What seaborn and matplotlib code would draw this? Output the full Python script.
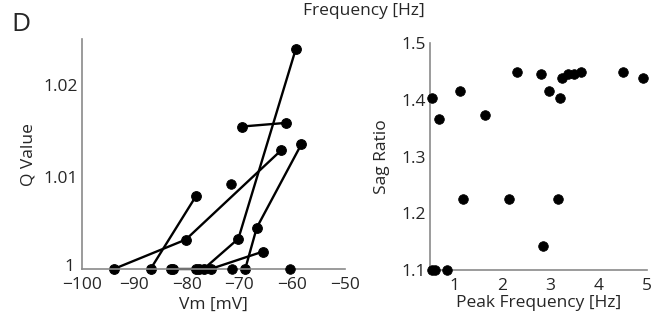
import numpy as np
import pandas as pd
import matplotlib
matplotlib.use("Agg")
import matplotlib.pyplot as plt
import matplotlib.transforms as mtransforms
import seaborn as sns
from matplotlib.ticker import MultipleLocator

sns.set_style("white")
plt.rcParams['font.family'] = ['Open Sans', 'DejaVu Sans']

# ---- Left panel data: Q value vs Vm, connected per cell ----
cell_ids = ["A", "A", "A", "B", "B", "C", "C", "D", "D", "D",
            "E", "E", "E", "F", "F", "G", "G", "G", "G"]
vm_vals = [-93.9, -80.2, -62.1, -86.9, -78.3, -69.6, -61.2, -76.8, -70.2, -59.3,
           -68.9, -66.7, -58.2, -75.5, -65.5, -83.0, -82.6, -78.2, -77.6]
q_vals = [1.0, 1.0032, 1.0129, 1.0, 1.0079, 1.0155, 1.0159, 1.0, 1.0033, 1.0239,
          1.0, 1.0045, 1.0136, 1.0, 1.0019, 1.0, 1.0, 1.0, 1.0]
single_vm = [-71.6, -71.4, -60.3]
single_q = [1.0092, 1.0, 1.0]

# ---- Right panel data: Sag ratio vs peak frequency ----
peak_freq = [0.535, 0.69, 1.12, 1.19, 1.645, 2.14, 2.315, 2.80, 2.845, 2.98,
             3.155, 3.205, 3.24, 3.36, 3.50, 3.63, 4.50, 4.92, 0.535, 0.60, 0.86]
sag_ratio = [1.403, 1.366, 1.416, 1.225, 1.374, 1.225, 1.450, 1.446, 1.143, 1.416,
             1.225, 1.403, 1.439, 1.446, 1.446, 1.450, 1.450, 1.439, 1.10, 1.10, 1.10]

left_xticks = [-100, -90, -80, -70, -60, -50]
left_yticks = [1.0, 1.01, 1.02]
left_yticklabels = ["1", "1.01", "1.02"]
right_xticks = [1, 2, 3, 4, 5]
right_yticks = [1.1, 1.2, 1.3, 1.4, 1.5]

df_lines = pd.DataFrame({"cell": cell_ids, "vm": vm_vals, "q": q_vals})
df_single = pd.DataFrame({"vm": single_vm, "q": single_q})
df_right = pd.DataFrame({"freq": peak_freq, "sag": sag_ratio})

fig = plt.figure(figsize=(6.61, 3.22), dpi=100)
ax1 = fig.add_axes([0.1236, 0.1646, 0.3977, 0.7134])
ax2 = fig.add_axes([0.6505, 0.1615, 0.3278, 0.7040])

spine_col = "#8a8a8a"
fs = 12.5

sns.lineplot(data=df_lines, x="vm", y="q", units="cell", estimator=None, sort=False,
             color="black", marker="o", markersize=7, linewidth=1.7,
             markeredgecolor="black", ax=ax1, clip_on=False, legend=False)
sns.scatterplot(data=df_single, x="vm", y="q", color="black", s=48, edgecolor="black",
                ax=ax1, clip_on=False, legend=False, zorder=3)

sns.scatterplot(data=df_right, x="freq", y="sag", color="black", s=48, edgecolor="black",
                ax=ax2, clip_on=False, legend=False, zorder=3)

ax1.set_xlim(-100, -50)
ax1.set_ylim(1.0, 1.025)
ax1.set_xticks(left_xticks)
ax1.set_xticklabels([f"\u2212{abs(v)}" for v in left_xticks])
ax1.set_yticks(left_yticks)
ax1.set_yticklabels(left_yticklabels)
ax1.xaxis.set_minor_locator(MultipleLocator(5))
ax1.yaxis.set_minor_locator(MultipleLocator(0.005))
ax1.set_xlabel("Vm [mV]", fontsize=fs)
ax1.set_ylabel("Q Value", fontsize=fs)
ax1.xaxis.set_label_coords(0.5, -0.155)
ax1.yaxis.set_label_coords(-0.204, 0.5)

ax2.set_xlim(0.5, 5)
ax2.set_ylim(1.1, 1.5)
ax2.set_xticks(right_xticks)
ax2.set_xticklabels([str(v) for v in right_xticks])
ax2.set_yticks(right_yticks)
ax2.set_yticklabels([f"{v:.1f}" for v in right_yticks])
ax2.xaxis.set_minor_locator(MultipleLocator(0.5))
ax2.yaxis.set_minor_locator(MultipleLocator(0.05))
ax2.set_xlabel("Peak Frequency [Hz]", fontsize=fs)
ax2.set_ylabel("Sag Ratio", fontsize=fs)
ax2.xaxis.set_label_coords(0.5, -0.146)
ax2.yaxis.set_label_coords(-0.223, 0.5)

for ax in (ax1, ax2):
    sns.despine(ax=ax)
    for s in ("left", "bottom"):
        ax.spines[s].set_color(spine_col)
        ax.spines[s].set_linewidth(1.2)
    ax.tick_params(axis="both", which="both", direction="in", color=spine_col,
                   labelsize=fs, width=1)
    ax.tick_params(axis="x", which="both", pad=6)
    ax.tick_params(axis="y", which="both", pad=3)
    ax.tick_params(which="major", length=3)
    ax.tick_params(which="minor", length=2)
    ax.xaxis.label.set_va("center")
    ax.yaxis.label.set_va("center")
    ax.patch.set_alpha(0)

# nudge the bottom "1" label up a little, as in the reference
lbl = ax1.get_yticklabels()[0]
lbl.set_transform(lbl.get_transform() +
                  mtransforms.ScaledTranslation(-2 / 72, 3 / 72, fig.dpi_scale_trans))

fig.text(0.551, 0.966, "Frequency [Hz]", ha="center", va="center", fontsize=fs)
fig.text(0.032, 0.925, "D", ha="center", va="center", fontsize=19)

fig.savefig("out.png", dpi=100)
